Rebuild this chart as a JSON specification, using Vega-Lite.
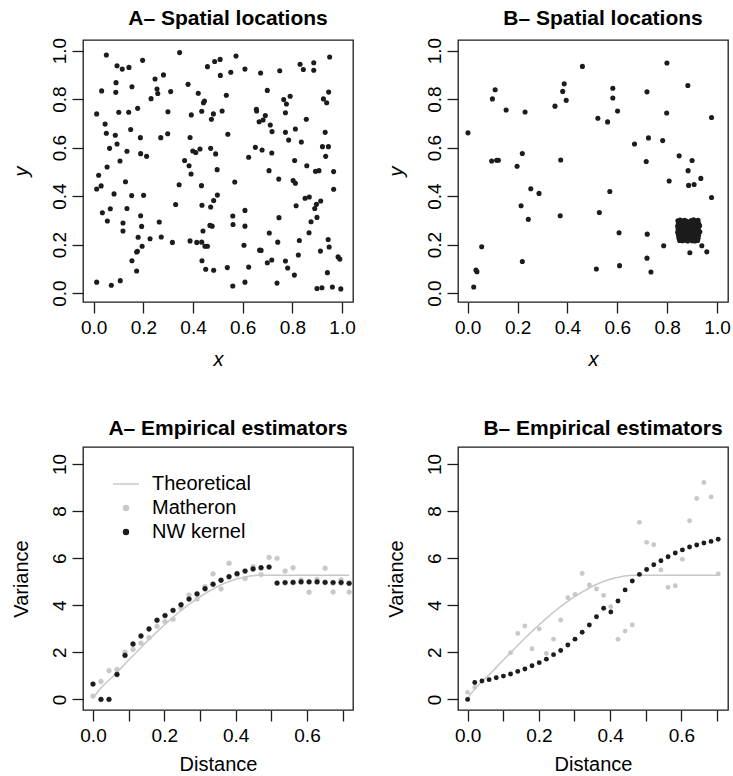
{
"$schema": "https://vega.github.io/schema/vega-lite/v6.json",
"padding": {"left": 10, "top": 7, "right": 0, "bottom": 0},
"background": "white",
"config": {
 "font": "Liberation Sans",
 "view": {"stroke": "#1c1c1c", "strokeWidth": 1.3},
 "axis": {"domain": false, "grid": false, "tickSize": 11, "tickWidth": 1.3, "tickColor": "#1c1c1c", "labelFontSize": 19, "labelColor": "#000", "titleFontSize": 20, "titleFontWeight": "normal", "titleColor": "#000", "labelOverlap": false, "labelFlush": false, "labelPadding": 5},
 "axisY": {"labelAngle": -90, "labelAlign": "center", "labelBaseline": "bottom", "labelPadding": 3, "titleX": -56, "titleBaseline": "alphabetic", "titleAngle": -90},
 "axisX": {"titleBaseline": "alphabetic"},
 "title": {"fontSize": 21, "fontWeight": "bold", "anchor": "middle", "frame": "group", "offset": 8, "baseline": "alphabetic", "dx": 10, "color": "#000"}
},
"datasets": {
 "locA": [
{"x":0.051,"y":0.982},{"x":0.197,"y":0.960},{"x":0.346,"y":0.992},{"x":0.458,"y":0.934},{"x":0.487,"y":0.955},{"x":0.509,"y":0.964},{"x":0.573,"y":0.978},{"x":0.094,"y":0.938},{"x":0.115,"y":0.924},{"x":0.142,"y":0.931},
{"x":0.510,"y":0.898},{"x":0.552,"y":0.911},{"x":0.609,"y":0.924},{"x":0.672,"y":0.908},{"x":0.749,"y":0.917},{"x":0.831,"y":0.944},{"x":0.844,"y":0.922},{"x":0.886,"y":0.950},{"x":0.886,"y":0.919},{"x":0.950,"y":0.974},
{"x":0.247,"y":0.883},{"x":0.281,"y":0.900},{"x":0.090,"y":0.868},{"x":0.032,"y":0.834},{"x":0.089,"y":0.828},{"x":0.154,"y":0.851},{"x":0.255,"y":0.842},{"x":0.258,"y":0.823},{"x":0.231,"y":0.802},{"x":0.310,"y":0.831},
{"x":0.380,"y":0.861},{"x":0.421,"y":0.824},{"x":0.446,"y":0.792},{"x":0.442,"y":0.785},{"x":0.534,"y":0.816},{"x":0.699,"y":0.836},{"x":0.791,"y":0.812},{"x":0.765,"y":0.798},{"x":0.776,"y":0.780},{"x":0.946,"y":0.829},
{"x":0.925,"y":0.801},{"x":0.938,"y":0.785},{"x":0.012,"y":0.739},{"x":0.101,"y":0.746},{"x":0.141,"y":0.746},{"x":0.177,"y":0.762},{"x":0.299,"y":0.748},{"x":0.393,"y":0.735},{"x":0.435,"y":0.750},{"x":0.482,"y":0.739},
{"x":0.474,"y":0.717},{"x":0.517,"y":0.751},{"x":0.655,"y":0.758},{"x":0.656,"y":0.751},{"x":0.691,"y":0.732},{"x":0.682,"y":0.714},{"x":0.666,"y":0.707},{"x":0.711,"y":0.693},{"x":0.772,"y":0.744},{"x":0.856,"y":0.717},
{"x":0.046,"y":0.697},{"x":0.051,"y":0.659},{"x":0.087,"y":0.651},{"x":0.149,"y":0.675},{"x":0.188,"y":0.641},{"x":0.270,"y":0.641},{"x":0.298,"y":0.657},{"x":0.388,"y":0.642},{"x":0.540,"y":0.655},{"x":0.718,"y":0.666},
{"x":0.772,"y":0.663},{"x":0.812,"y":0.677},{"x":0.785,"y":0.631},{"x":0.836,"y":0.623},{"x":0.932,"y":0.663},{"x":0.094,"y":0.615},{"x":0.064,"y":0.597},{"x":0.134,"y":0.585},{"x":0.189,"y":0.575},{"x":0.213,"y":0.564},
{"x":0.399,"y":0.586},{"x":0.411,"y":0.580},{"x":0.428,"y":0.594},{"x":0.471,"y":0.597},{"x":0.491,"y":0.574},{"x":0.651,"y":0.601},{"x":0.678,"y":0.590},{"x":0.717,"y":0.578},{"x":0.624,"y":0.560},{"x":0.921,"y":0.604},
{"x":0.945,"y":0.604},{"x":0.106,"y":0.545},{"x":0.054,"y":0.520},{"x":0.020,"y":0.486},{"x":0.366,"y":0.547},{"x":0.384,"y":0.525},{"x":0.392,"y":0.491},{"x":0.497,"y":0.509},{"x":0.809,"y":0.547},{"x":0.934,"y":0.564},
{"x":0.858,"y":0.525},{"x":0.893,"y":0.502},{"x":0.907,"y":0.505},{"x":0.966,"y":0.501},{"x":0.706,"y":0.505},{"x":0.745,"y":0.470},{"x":0.803,"y":0.464},{"x":0.812,"y":0.453},{"x":0.012,"y":0.429},{"x":0.030,"y":0.442},
{"x":0.128,"y":0.459},{"x":0.082,"y":0.409},{"x":0.153,"y":0.402},{"x":0.201,"y":0.403},{"x":0.344,"y":0.447},{"x":0.434,"y":0.443},{"x":0.568,"y":0.458},{"x":0.966,"y":0.428},{"x":0.498,"y":0.404},{"x":0.483,"y":0.382},
{"x":0.471,"y":0.355},{"x":0.436,"y":0.362},{"x":0.330,"y":0.365},{"x":0.035,"y":0.331},{"x":0.067,"y":0.348},{"x":0.055,"y":0.297},{"x":0.134,"y":0.349},{"x":0.189,"y":0.319},{"x":0.193,"y":0.275},{"x":0.118,"y":0.289},
{"x":0.118,"y":0.256},{"x":0.264,"y":0.293},{"x":0.560,"y":0.318},{"x":0.561,"y":0.283},{"x":0.609,"y":0.341},{"x":0.609,"y":0.276},{"x":0.746,"y":0.311},{"x":0.815,"y":0.360},{"x":0.851,"y":0.391},{"x":0.868,"y":0.396},
{"x":0.914,"y":0.380},{"x":0.897,"y":0.366},{"x":0.890,"y":0.349},{"x":0.899,"y":0.312},{"x":0.875,"y":0.294},{"x":0.867,"y":0.249},{"x":0.707,"y":0.248},{"x":0.440,"y":0.256},{"x":0.468,"y":0.279},{"x":0.477,"y":0.276},
{"x":0.179,"y":0.230},{"x":0.227,"y":0.224},{"x":0.272,"y":0.231},{"x":0.317,"y":0.209},{"x":0.388,"y":0.215},{"x":0.415,"y":0.209},{"x":0.435,"y":0.210},{"x":0.448,"y":0.193},{"x":0.458,"y":0.193},{"x":0.605,"y":0.197},
{"x":0.668,"y":0.177},{"x":0.674,"y":0.176},{"x":0.741,"y":0.210},{"x":0.828,"y":0.217},{"x":0.944,"y":0.221},{"x":0.948,"y":0.190},{"x":0.913,"y":0.173},{"x":0.176,"y":0.172},{"x":0.173,"y":0.169},{"x":0.195,"y":0.193},
{"x":0.154,"y":0.133},{"x":0.173,"y":0.091},{"x":0.436,"y":0.133},{"x":0.451,"y":0.098},{"x":0.483,"y":0.094},{"x":0.538,"y":0.105},{"x":0.624,"y":0.107},{"x":0.699,"y":0.125},{"x":0.717,"y":0.136},{"x":0.772,"y":0.132},
{"x":0.781,"y":0.103},{"x":0.808,"y":0.074},{"x":0.824,"y":0.157},{"x":0.984,"y":0.149},{"x":0.991,"y":0.140},{"x":0.941,"y":0.084},{"x":0.012,"y":0.045},{"x":0.071,"y":0.032},{"x":0.107,"y":0.051},{"x":0.560,"y":0.029},
{"x":0.609,"y":0.045},{"x":0.738,"y":0.041},{"x":0.899,"y":0.019},{"x":0.919,"y":0.022},{"x":0.961,"y":0.025},{"x":0.995,"y":0.017}
 ],
 "locB": [
{"x":0.001,"y":0.661},{"x":0.024,"y":0.025},{"x":0.033,"y":0.095},{"x":0.037,"y":0.088},{"x":0.056,"y":0.191},{"x":0.099,"y":0.801},{"x":0.110,"y":0.839},{"x":0.096,"y":0.545},{"x":0.116,"y":0.548},{"x":0.123,"y":0.548},
{"x":0.154,"y":0.755},{"x":0.198,"y":0.523},{"x":0.219,"y":0.576},{"x":0.214,"y":0.360},{"x":0.230,"y":0.747},{"x":0.243,"y":0.304},{"x":0.253,"y":0.430},{"x":0.286,"y":0.411},{"x":0.219,"y":0.130},{"x":0.350,"y":0.771},
{"x":0.373,"y":0.549},{"x":0.371,"y":0.319},{"x":0.381,"y":0.832},{"x":0.387,"y":0.863},{"x":0.395,"y":0.795},{"x":0.460,"y":0.935},{"x":0.522,"y":0.721},{"x":0.528,"y":0.332},{"x":0.561,"y":0.706},{"x":0.570,"y":0.419},
{"x":0.582,"y":0.845},{"x":0.582,"y":0.805},{"x":0.601,"y":0.751},{"x":0.607,"y":0.249},{"x":0.609,"y":0.113},{"x":0.516,"y":0.099},{"x":0.669,"y":0.615},{"x":0.719,"y":0.830},{"x":0.725,"y":0.640},{"x":0.716,"y":0.543},
{"x":0.720,"y":0.243},{"x":0.719,"y":0.144},{"x":0.735,"y":0.087},{"x":0.782,"y":0.629},{"x":0.799,"y":0.949},{"x":0.798,"y":0.743},{"x":0.808,"y":0.462},{"x":0.786,"y":0.195},{"x":0.848,"y":0.566},{"x":0.883,"y":0.856},
{"x":0.884,"y":0.505},{"x":0.900,"y":0.547},{"x":0.886,"y":0.444},{"x":0.908,"y":0.448},{"x":0.935,"y":0.473},{"x":0.978,"y":0.724},{"x":0.978,"y":0.394},{"x":0.939,"y":0.195},{"x":0.959,"y":0.170},{"x":0.891,"y":0.166},
{"x":0.843,"y":0.298},{"x":0.852,"y":0.301},{"x":0.861,"y":0.297},{"x":0.870,"y":0.300},{"x":0.879,"y":0.296},
{"x":0.845,"y":0.287},{"x":0.855,"y":0.289},{"x":0.864,"y":0.285},{"x":0.873,"y":0.288},{"x":0.883,"y":0.286},
{"x":0.842,"y":0.276},{"x":0.850,"y":0.273},{"x":0.859,"y":0.277},{"x":0.868,"y":0.274},{"x":0.877,"y":0.276},{"x":0.885,"y":0.272},
{"x":0.844,"y":0.263},{"x":0.853,"y":0.261},{"x":0.862,"y":0.264},{"x":0.871,"y":0.262},{"x":0.880,"y":0.265},
{"x":0.842,"y":0.251},{"x":0.851,"y":0.249},{"x":0.860,"y":0.252},{"x":0.869,"y":0.250},{"x":0.878,"y":0.247},{"x":0.886,"y":0.253},
{"x":0.845,"y":0.239},{"x":0.854,"y":0.237},{"x":0.863,"y":0.240},{"x":0.872,"y":0.236},{"x":0.881,"y":0.239},
{"x":0.847,"y":0.227},{"x":0.856,"y":0.225},{"x":0.865,"y":0.228},{"x":0.874,"y":0.226},{"x":0.883,"y":0.229},
{"x":0.850,"y":0.217},{"x":0.861,"y":0.216},{"x":0.872,"y":0.218},{"x":0.882,"y":0.215},
{"x":0.897,"y":0.299},{"x":0.906,"y":0.302},{"x":0.915,"y":0.298},{"x":0.924,"y":0.300},
{"x":0.899,"y":0.288},{"x":0.908,"y":0.286},{"x":0.917,"y":0.289},{"x":0.926,"y":0.287},
{"x":0.896,"y":0.276},{"x":0.905,"y":0.274},{"x":0.914,"y":0.277},{"x":0.923,"y":0.275},{"x":0.930,"y":0.278},
{"x":0.898,"y":0.263},{"x":0.907,"y":0.265},{"x":0.916,"y":0.262},{"x":0.925,"y":0.264},
{"x":0.897,"y":0.251},{"x":0.906,"y":0.249},{"x":0.915,"y":0.252},{"x":0.924,"y":0.250},{"x":0.931,"y":0.253},
{"x":0.899,"y":0.239},{"x":0.908,"y":0.237},{"x":0.917,"y":0.240},{"x":0.926,"y":0.238},
{"x":0.897,"y":0.227},{"x":0.906,"y":0.225},{"x":0.915,"y":0.228},{"x":0.924,"y":0.226},
{"x":0.900,"y":0.216},{"x":0.911,"y":0.215},{"x":0.922,"y":0.217}
 ],
 "theoA": [
{"d":0,"v":0.05},{"d":0.02,"v":0.45},{"d":0.04,"v":0.75},{"d":0.06,"v":1.04},{"d":0.08,"v":1.35},{"d":0.10,"v":1.67},{"d":0.12,"v":1.97},{"d":0.14,"v":2.29},{"d":0.16,"v":2.59},{"d":0.18,"v":2.88},{"d":0.20,"v":3.16},{"d":0.22,"v":3.43},{"d":0.24,"v":3.69},{"d":0.26,"v":3.93},{"d":0.28,"v":4.15},{"d":0.30,"v":4.36},{"d":0.32,"v":4.55},{"d":0.34,"v":4.72},{"d":0.36,"v":4.87},{"d":0.38,"v":5.00},{"d":0.40,"v":5.10},{"d":0.42,"v":5.18},{"d":0.44,"v":5.24},{"d":0.46,"v":5.27},{"d":0.47,"v":5.27},{"d":0.718,"v":5.27}
 ],
 "theoB": [
{"d":0,"v":0.05},{"d":0.02,"v":0.45},{"d":0.04,"v":0.75},{"d":0.06,"v":1.04},{"d":0.08,"v":1.35},{"d":0.10,"v":1.67},{"d":0.12,"v":1.97},{"d":0.14,"v":2.29},{"d":0.16,"v":2.59},{"d":0.18,"v":2.88},{"d":0.20,"v":3.16},{"d":0.22,"v":3.43},{"d":0.24,"v":3.69},{"d":0.26,"v":3.93},{"d":0.28,"v":4.15},{"d":0.30,"v":4.36},{"d":0.32,"v":4.55},{"d":0.34,"v":4.72},{"d":0.36,"v":4.87},{"d":0.38,"v":5.00},{"d":0.40,"v":5.10},{"d":0.42,"v":5.18},{"d":0.44,"v":5.24},{"d":0.46,"v":5.27},{"d":0.47,"v":5.27},{"d":0.705,"v":5.27}
 ],
 "empA": [
{"d":0,"v":0.14,"series":"Matheron"},{"d":0.0224,"v":0.76,"series":"Matheron"},{"d":0.0449,"v":1.22,"series":"Matheron"},{"d":0.0673,"v":1.27,"series":"Matheron"},{"d":0.0898,"v":2.00,"series":"Matheron"},{"d":0.1122,"v":2.12,"series":"Matheron"},{"d":0.1346,"v":2.39,"series":"Matheron"},{"d":0.1571,"v":2.62,"series":"Matheron"},{"d":0.1795,"v":3.10,"series":"Matheron"},{"d":0.2020,"v":3.30,"series":"Matheron"},{"d":0.2244,"v":3.40,"series":"Matheron"},
{"d":0.2468,"v":3.87,"series":"Matheron"},{"d":0.2693,"v":4.43,"series":"Matheron"},{"d":0.2917,"v":4.26,"series":"Matheron"},{"d":0.3142,"v":4.79,"series":"Matheron"},{"d":0.3366,"v":5.33,"series":"Matheron"},{"d":0.3590,"v":4.69,"series":"Matheron"},{"d":0.3815,"v":5.78,"series":"Matheron"},{"d":0.4039,"v":5.30,"series":"Matheron"},{"d":0.4264,"v":5.13,"series":"Matheron"},{"d":0.4488,"v":5.64,"series":"Matheron"},{"d":0.4712,"v":5.30,"series":"Matheron"},
{"d":0.4937,"v":6.03,"series":"Matheron"},{"d":0.5161,"v":5.99,"series":"Matheron"},{"d":0.5386,"v":5.45,"series":"Matheron"},{"d":0.5610,"v":5.59,"series":"Matheron"},{"d":0.5834,"v":5.07,"series":"Matheron"},{"d":0.6059,"v":4.55,"series":"Matheron"},{"d":0.6283,"v":5.10,"series":"Matheron"},{"d":0.6508,"v":5.57,"series":"Matheron"},{"d":0.6732,"v":4.56,"series":"Matheron"},{"d":0.6956,"v":5.07,"series":"Matheron"},{"d":0.7181,"v":4.56,"series":"Matheron"},
{"d":0,"v":0.65,"series":"NW kernel"},{"d":0.0224,"v":0,"series":"NW kernel"},{"d":0.0449,"v":0,"series":"NW kernel"},{"d":0.0673,"v":1.06,"series":"NW kernel"},{"d":0.0898,"v":1.87,"series":"NW kernel"},{"d":0.1122,"v":2.35,"series":"NW kernel"},{"d":0.1346,"v":2.69,"series":"NW kernel"},{"d":0.1571,"v":2.99,"series":"NW kernel"},{"d":0.1795,"v":3.36,"series":"NW kernel"},{"d":0.2020,"v":3.56,"series":"NW kernel"},{"d":0.2244,"v":3.78,"series":"NW kernel"},
{"d":0.2468,"v":4.02,"series":"NW kernel"},{"d":0.2693,"v":4.26,"series":"NW kernel"},{"d":0.2917,"v":4.48,"series":"NW kernel"},{"d":0.3142,"v":4.70,"series":"NW kernel"},{"d":0.3366,"v":4.89,"series":"NW kernel"},{"d":0.3590,"v":5.06,"series":"NW kernel"},{"d":0.3815,"v":5.21,"series":"NW kernel"},{"d":0.4039,"v":5.34,"series":"NW kernel"},{"d":0.4264,"v":5.45,"series":"NW kernel"},{"d":0.4488,"v":5.54,"series":"NW kernel"},{"d":0.4712,"v":5.59,"series":"NW kernel"},
{"d":0.4937,"v":5.62,"series":"NW kernel"},{"d":0.5161,"v":4.94,"series":"NW kernel"},{"d":0.5386,"v":4.96,"series":"NW kernel"},{"d":0.5610,"v":4.97,"series":"NW kernel"},{"d":0.5834,"v":4.99,"series":"NW kernel"},{"d":0.6059,"v":4.99,"series":"NW kernel"},{"d":0.6283,"v":4.99,"series":"NW kernel"},{"d":0.6508,"v":4.97,"series":"NW kernel"},{"d":0.6732,"v":4.96,"series":"NW kernel"},{"d":0.6956,"v":4.96,"series":"NW kernel"},{"d":0.7181,"v":4.93,"series":"NW kernel"}
 ],
 "empB": [
{"d":0,"v":0.30,"series":"Matheron"},{"d":0.0201,"v":0.51,"series":"Matheron"},{"d":0.1206,"v":1.98,"series":"Matheron"},{"d":0.1407,"v":2.80,"series":"Matheron"},{"d":0.1608,"v":3.12,"series":"Matheron"},{"d":0.1809,"v":2.15,"series":"Matheron"},{"d":0.2010,"v":2.99,"series":"Matheron"},{"d":0.2211,"v":1.95,"series":"Matheron"},{"d":0.2412,"v":2.56,"series":"Matheron"},{"d":0.2613,"v":3.37,"series":"Matheron"},{"d":0.2814,"v":4.32,"series":"Matheron"},
{"d":0.3015,"v":4.46,"series":"Matheron"},{"d":0.3216,"v":5.35,"series":"Matheron"},{"d":0.3417,"v":4.86,"series":"Matheron"},{"d":0.3618,"v":4.69,"series":"Matheron"},{"d":0.3819,"v":4.42,"series":"Matheron"},{"d":0.4020,"v":3.94,"series":"Matheron"},{"d":0.4221,"v":2.55,"series":"Matheron"},{"d":0.4422,"v":2.90,"series":"Matheron"},{"d":0.4623,"v":3.16,"series":"Matheron"},{"d":0.4824,"v":7.52,"series":"Matheron"},{"d":0.5025,"v":6.67,"series":"Matheron"},
{"d":0.5226,"v":6.57,"series":"Matheron"},{"d":0.5427,"v":5.50,"series":"Matheron"},{"d":0.5628,"v":4.76,"series":"Matheron"},{"d":0.5829,"v":4.83,"series":"Matheron"},{"d":0.6030,"v":5.95,"series":"Matheron"},{"d":0.6231,"v":7.59,"series":"Matheron"},{"d":0.6432,"v":8.53,"series":"Matheron"},{"d":0.6633,"v":9.21,"series":"Matheron"},{"d":0.6834,"v":8.60,"series":"Matheron"},{"d":0.7035,"v":5.33,"series":"Matheron"},
{"d":0,"v":0,"series":"NW kernel"},{"d":0.0201,"v":0.72,"series":"NW kernel"},{"d":0.0402,"v":0.78,"series":"NW kernel"},{"d":0.0603,"v":0.84,"series":"NW kernel"},{"d":0.0804,"v":0.92,"series":"NW kernel"},{"d":0.1005,"v":0.99,"series":"NW kernel"},{"d":0.1206,"v":1.08,"series":"NW kernel"},{"d":0.1407,"v":1.19,"series":"NW kernel"},{"d":0.1608,"v":1.29,"series":"NW kernel"},{"d":0.1809,"v":1.43,"series":"NW kernel"},{"d":0.2010,"v":1.56,"series":"NW kernel"},{"d":0.2211,"v":1.71,"series":"NW kernel"},
{"d":0.2412,"v":1.90,"series":"NW kernel"},{"d":0.2613,"v":2.08,"series":"NW kernel"},{"d":0.2814,"v":2.31,"series":"NW kernel"},{"d":0.3015,"v":2.56,"series":"NW kernel"},{"d":0.3216,"v":2.85,"series":"NW kernel"},{"d":0.3417,"v":3.16,"series":"NW kernel"},{"d":0.3618,"v":3.51,"series":"NW kernel"},{"d":0.3819,"v":3.87,"series":"NW kernel"},{"d":0.4020,"v":3.71,"series":"NW kernel"},{"d":0.4221,"v":4.18,"series":"NW kernel"},{"d":0.4422,"v":4.65,"series":"NW kernel"},{"d":0.4623,"v":5.03,"series":"NW kernel"},
{"d":0.4824,"v":5.31,"series":"NW kernel"},{"d":0.5025,"v":5.52,"series":"NW kernel"},{"d":0.5226,"v":5.72,"series":"NW kernel"},{"d":0.5427,"v":5.89,"series":"NW kernel"},{"d":0.5628,"v":6.06,"series":"NW kernel"},{"d":0.5829,"v":6.22,"series":"NW kernel"},{"d":0.6030,"v":6.35,"series":"NW kernel"},{"d":0.6231,"v":6.47,"series":"NW kernel"},{"d":0.6432,"v":6.56,"series":"NW kernel"},{"d":0.6633,"v":6.64,"series":"NW kernel"},{"d":0.6834,"v":6.71,"series":"NW kernel"},{"d":0.7035,"v":6.80,"series":"NW kernel"}
 ]
},
"columns": 2,
"bounds": "flush",
"spacing": {"row": 145, "column": 105},
"resolve": {"scale": {"fill": "independent", "stroke": "independent", "shape": "independent"}},
"concat": [
   {
    "width": 270, "height": 262,
    "title": {"text": "A– Spatial locations"},
    "data": {"name": "locA"},
    "mark": {"type": "circle", "size": 26, "color": "#1c1c1c", "opacity": 1},
    "encoding": {
     "x": {"field": "x", "type": "quantitative", "scale": {"domain": [-0.043, 1.044], "nice": false, "zero": false}, "axis": {"title": "x", "values": [0, 0.2, 0.4, 0.6, 0.8, 1], "format": ".1f", "titleFontStyle": "italic", "titleY": 63}},
     "y": {"field": "y", "type": "quantitative", "scale": {"domain": [-0.037, 1.044], "nice": false, "zero": false}, "axis": {"title": "y", "values": [0, 0.2, 0.4, 0.6, 0.8, 1], "format": ".1f", "titleFontStyle": "italic"}}
    }
   },
   {
    "width": 270, "height": 262,
    "title": {"text": "B– Spatial locations"},
    "data": {"name": "locB"},
    "mark": {"type": "circle", "size": 26, "color": "#1c1c1c", "opacity": 1},
    "encoding": {
     "x": {"field": "x", "type": "quantitative", "scale": {"domain": [-0.039, 1.044], "nice": false, "zero": false}, "axis": {"title": "x", "values": [0, 0.2, 0.4, 0.6, 0.8, 1], "format": ".1f", "titleFontStyle": "italic", "titleY": 63}},
     "y": {"field": "y", "type": "quantitative", "scale": {"domain": [-0.037, 1.044], "nice": false, "zero": false}, "axis": {"title": "y", "values": [0, 0.2, 0.4, 0.6, 0.8, 1], "format": ".1f", "titleFontStyle": "italic"}}
    }
   },
   {
    "width": 270, "height": 263,
    "title": {"text": "A– Empirical estimators"},
    "encoding": {
     "x": {"field": "d", "type": "quantitative", "scale": {"domain": [-0.028, 0.729], "nice": false, "zero": false}, "axis": {"title": "Distance", "values": [0, 0.1, 0.2, 0.3, 0.4, 0.5, 0.6, 0.7], "format": ".1f", "labelExpr": "round(datum.value*10) % 2 == 0 ? datum.label : ''", "titleY": 60}},
     "y": {"field": "v", "type": "quantitative", "scale": {"domain": [-0.45, 10.72], "nice": false, "zero": false}, "axis": {"title": "Variance", "values": [0, 2, 4, 6, 8, 10], "format": "d"}}
    },
    "layer": [
     {"data": {"name": "theoA"}, "mark": {"type": "line", "color": "#c8c8c8", "strokeWidth": 1.5}},
     {"data": {"name": "empA"}, "mark": {"type": "point", "filled": true, "size": 24, "strokeWidth": 0.5, "opacity": 1},
      "encoding": {
       "fill": {"field": "series", "type": "nominal", "scale": {"domain": ["Theoretical", "Matheron", "NW kernel"], "range": ["#c8c8c8", "#c8c8c8", "#1c1c1c"]},
        "legend": {"title": null, "orient": "none", "legendX": 33, "legendY": 27, "labelFontSize": 20, "labelColor": "#000", "symbolSize": 24, "symbolStrokeWidth": 1.5, "symbolOpacity": 1, "rowPadding": 4, "labelOffset": 16, "padding": 0}},
       "stroke": {"field": "series", "type": "nominal", "scale": {"domain": ["Theoretical", "Matheron", "NW kernel"], "range": ["#c8c8c8", "#c8c8c8", "#1c1c1c"]},
        "legend": {"title": null, "orient": "none", "legendX": 33, "legendY": 27, "labelFontSize": 20, "labelColor": "#000", "symbolSize": 24, "symbolStrokeWidth": 1.5, "symbolOpacity": 1, "rowPadding": 4, "labelOffset": 16, "padding": 0}},
       "shape": {"field": "series", "type": "nominal", "scale": {"domain": ["Theoretical", "Matheron", "NW kernel"], "range": ["M-5.3,0H5.3", "circle", "circle"]},
        "legend": {"title": null, "orient": "none", "legendX": 33, "legendY": 27, "labelFontSize": 20, "labelColor": "#000", "symbolSize": 24, "symbolStrokeWidth": 1.5, "symbolOpacity": 1, "rowPadding": 4, "labelOffset": 16, "padding": 0}}
      }}
    ]
   },
   {
    "width": 270, "height": 263,
    "title": {"text": "B– Empirical estimators"},
    "encoding": {
     "x": {"field": "d", "type": "quantitative", "scale": {"domain": [-0.027, 0.731], "nice": false, "zero": false}, "axis": {"title": "Distance", "values": [0, 0.1, 0.2, 0.3, 0.4, 0.5, 0.6, 0.7], "format": ".1f", "labelExpr": "round(datum.value*10) % 2 == 0 ? datum.label : ''", "titleY": 60}},
     "y": {"field": "v", "type": "quantitative", "scale": {"domain": [-0.45, 10.72], "nice": false, "zero": false}, "axis": {"title": "Variance", "values": [0, 2, 4, 6, 8, 10], "format": "d"}}
    },
    "layer": [
     {"data": {"name": "theoB"}, "mark": {"type": "line", "color": "#c8c8c8", "strokeWidth": 1.5}},
     {"data": {"name": "empB"}, "transform": [{"filter": "datum.series == 'Matheron'"}], "mark": {"type": "circle", "size": 24, "color": "#c8c8c8", "opacity": 1}},
     {"data": {"name": "empB"}, "transform": [{"filter": "datum.series == 'NW kernel'"}], "mark": {"type": "circle", "size": 24, "color": "#1c1c1c", "opacity": 1}}
    ]
   }
]
}
